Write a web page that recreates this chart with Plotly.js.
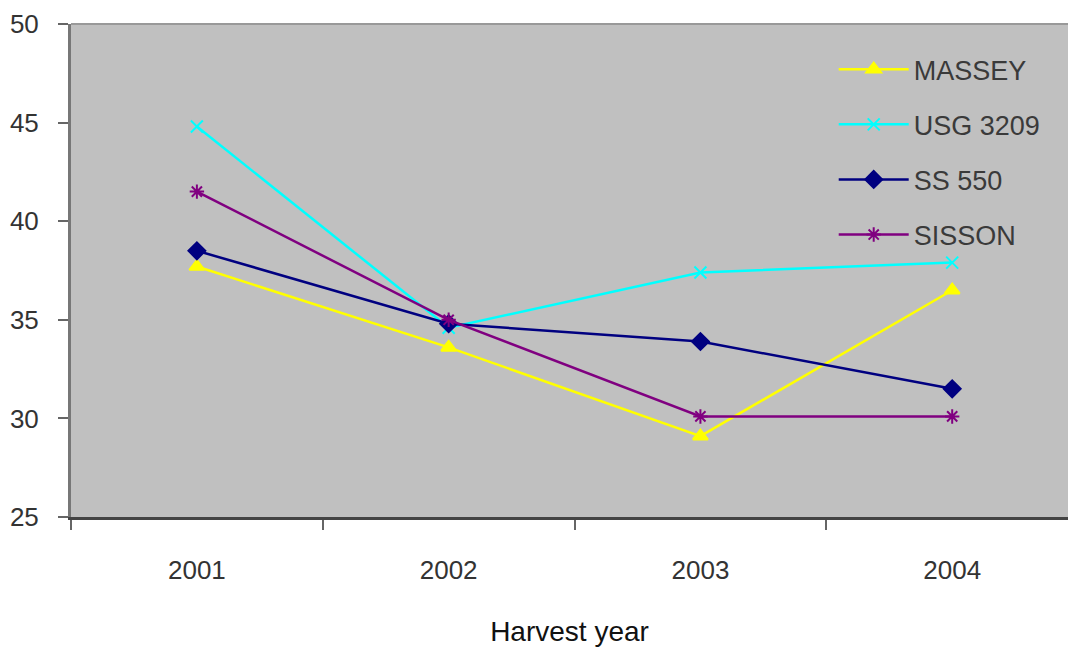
<!DOCTYPE html>
<html>
<head>
<meta charset="utf-8">
<script src="https://cdn.plot.ly/plotly-3.0.1.min.js"></script>
<style>html,body{margin:0;padding:0;background:#fff;}#chart{width:1068px;height:648px;}</style>
</head>
<body>
<div id="chart"></div>
<script>
var years = ["2001", "2002", "2003", "2004"];
var massey = [37.7, 33.6, 29.1, 36.5];
var usg3209 = [44.8, 34.6, 37.4, 37.9];
var ss550 = [38.5, 34.8, 33.9, 31.5];
var sisson = [41.5, 35.0, 30.1, 30.1];

var fontFam = "'Liberation Sans Narrow', 'Arial Narrow', 'Liberation Sans', Arial, sans-serif";

function series(name, y, color, symbol, size) {
  return {
    x: years, y: y, name: name, type: 'scatter', mode: 'lines+markers',
    legendgroup: name,
    line: {color: color, width: 2.5},
    marker: {symbol: symbol, color: color, size: size, line: {color: color, width: 2}}
  };
}

var data = [
  series('MASSEY', massey, '#FFFF00', 'triangle-up', 13),
  series('USG 3209', usg3209, '#00FFFF', 'x-thin-open', 12),
  series('SS 550', ss550, '#000080', 'diamond', 13),
  series('SISSON', sisson, '#800080', 'asterisk-open', 12)
];

var layout = {
  width: 1068, height: 648,
  margin: {l: 71, r: 0, t: 24, b: 131},
  paper_bgcolor: '#ffffff',
  plot_bgcolor: '#c0c0c0',
  font: {family: fontFam, color: '#333333', size: 20},
  showlegend: true,
  legend: {
    x: 0.765, y: 0.957, xanchor: 'left', yanchor: 'top',
    bgcolor: 'rgba(0,0,0,0)', borderwidth: 0,
    font: {family: fontFam, size: 27, color: '#3a3a3a'},
    itemwidth: 70, traceorder: 'grouped', tracegroupgap: 17
  },
  xaxis: {
    type: 'category',
    range: [-0.5, 3.46],
    showgrid: false, zeroline: false,
    showline: true, linecolor: '#444444', linewidth: 3,
    ticks: 'outside', ticklen: 10, tickwidth: 2, tickcolor: '#666666',
    tickson: 'boundaries',
    ticklabelstandoff: 28,
    tickfont: {family: fontFam, size: 26, color: '#333333'},
    title: {text: 'Harvest year', font: {family: fontFam, size: 28, color: '#111111'}, standoff: 38}
  },
  yaxis: {
    range: [25, 50],
    dtick: 5, tick0: 25,
    showgrid: false, zeroline: false,
    showline: true, linecolor: '#777777', linewidth: 3,
    ticks: 'outside', ticklen: 10, tickwidth: 2, tickcolor: '#666666',
    ticklabelstandoff: 14,
    tickfont: {family: fontFam, size: 26, color: '#333333'}
  },
  shapes: [
    {type: 'line', xref: 'paper', yref: 'paper', x0: 0, x1: 1, y0: 1, y1: 1, line: {color: '#999999', width: 2}}
  ]
};

Plotly.newPlot('chart', data, layout, {displayModeBar: false, staticPlot: true});
</script>
</body>
</html>
